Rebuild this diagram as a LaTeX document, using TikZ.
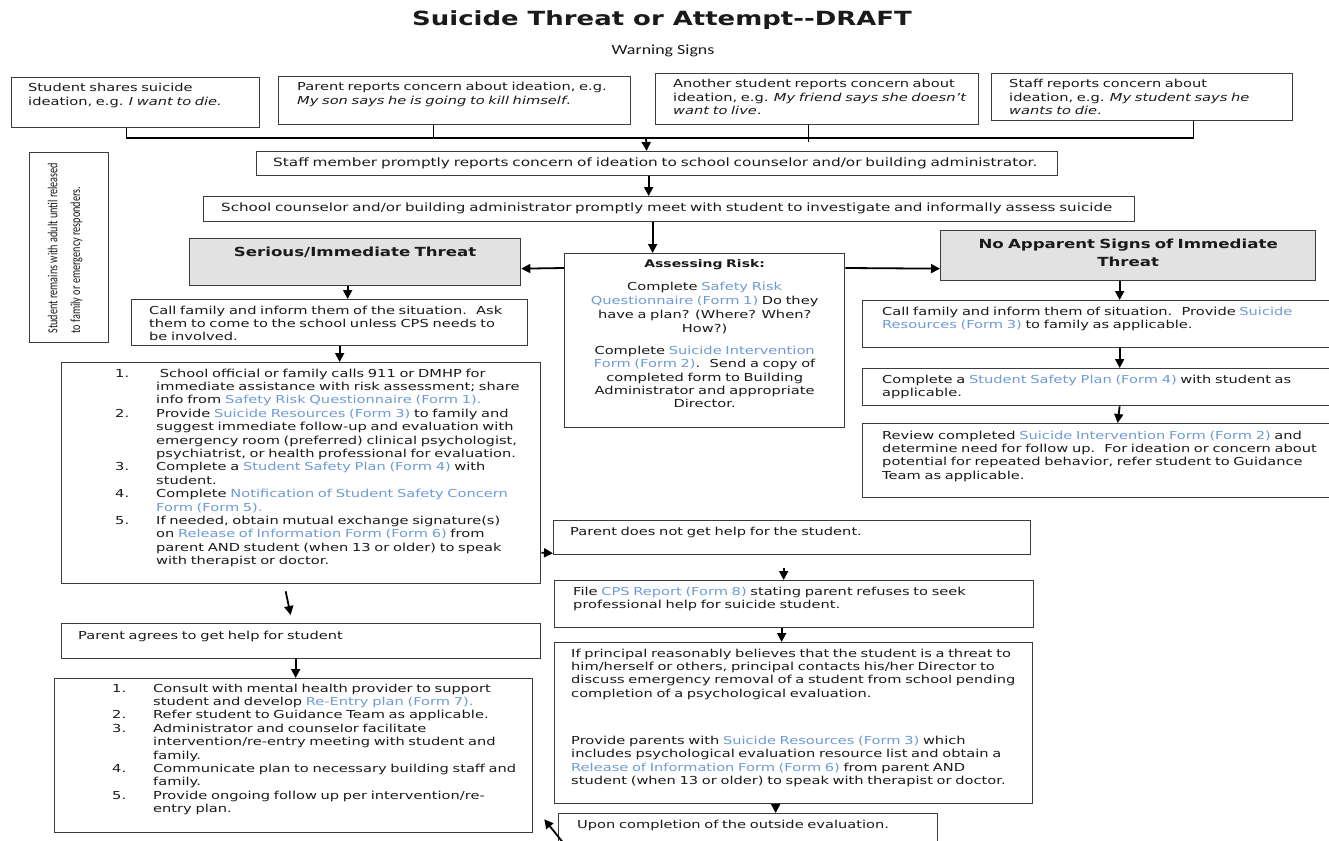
\documentclass[tikz,border=0pt]{standalone}
\usepackage{fontspec}
\usepackage{xcolor}
\usepackage{graphicx}
\usetikzlibrary{arrows.meta}
\setmainfont{DejaVu Sans}[FakeStretch=1.33]
\newfontfamily\calfont{Carlito}
\newfontfamily\calwide{Carlito}[FakeStretch=1.28]

\definecolor{encre}{HTML}{1A1A1A}
\definecolor{lien}{HTML}{6E9BD6}
\definecolor{bord}{HTML}{3C3C3C}
\definecolor{grisfond}{HTML}{E2E2E2}

\newcommand{\corps}{\fontsize{11}{13.4}\selectfont\normalbaselineskip=13.4pt}
\newcommand{\form}[1]{\textcolor{lien}{#1}}
\newcommand{\numero}[1]{\makebox[41pt][l]{#1}}
\newcommand{\retrait}{\hspace*{41pt}}

\begin{document}
\begin{tikzpicture}[x=1pt,y=-1pt,
  boite/.style={draw=bord, line width=1.3pt, anchor=north west, inner sep=0pt},
  grise/.style={boite, fill=grisfond},
  txt/.style={anchor=base west, inner sep=0pt, text width=1000pt, align=left, font=\corps, text=encre},
  txtc/.style={txt, anchor=base, align=center},
  fleche/.style={line width=1.8pt, -{Triangle[length=9pt,width=9pt]}},
  trait/.style={line width=1.4pt}]

\path[fill=white, use as bounding box] (0,0) rectangle (1329,840);

% Titre
\node[font=\bfseries\fontsize{19.5}{24}\selectfont, text=encre] (title) at (662,20) {Suicide Threat or Attempt-{}-DRAFT};
\node[font=\calwide\fontsize{14}{16}\selectfont, text=encre] (signs) at (663,51) {Warning Signs};

% Signes d'alerte
\node[boite, minimum width=248pt, minimum height=50pt] (student) at (11,77) {};
\node[txt] (student-t) at ([xshift=17pt,yshift=-15pt]student.north west) {Student shares suicide\\ideation, e.g. \textit{I want to die.}};
\node[boite, minimum width=352pt, minimum height=48pt] (parent) at (278,76) {};
\node[txt] (parent-t) at ([xshift=19pt,yshift=-15pt]parent.north west) {Parent reports concern about ideation, e.g.\\\textit{My son says he is going to kill himself}.};
\node[boite, minimum width=323pt, minimum height=51pt] (peer) at (655,73) {};
\node[txt] (peer-t) at ([xshift=18pt,yshift=-15pt]peer.north west) {Another student reports concern about\\ideation, e.g. \textit{My friend says she doesn't}\\\textit{want to live}.};
\node[boite, minimum width=301pt, minimum height=47pt] (staff) at (991,73) {};
\node[txt] (staff-t) at ([xshift=18pt,yshift=-15pt]staff.north west) {Staff reports concern about\\ideation, e.g. \textit{My student says he}\\\textit{wants to die}.};

% Signalement et rencontre
\node[boite, minimum width=801pt, minimum height=24pt] (report) at (256,151) {};
\node[txt, font=\fontsize{11.5}{13.4}\selectfont] (report-t) at ([xshift=17pt,yshift=-15pt]report.north west) {Staff member promptly reports concern of ideation to school counselor and/or building administrator.};
\node[boite, minimum width=931pt, minimum height=25pt] (meet) at (203,196) {};
\node[txt, font=\fontsize{11.35}{13.4}\selectfont] (meet-t) at ([xshift=18pt,yshift=-15pt]meet.north west) {School counselor and/or building administrator promptly meet with student to investigate and informally assess suicide};

% Encadre vertical
\node[boite, minimum width=79pt, minimum height=190pt] (side) at (29,152) {};
\node[rotate=90, inner sep=0pt, text=encre] (side-t) at ([xshift=-4pt]side.center) {\scalebox{1}[1.35]{\parbox{172pt}{\calfont\fontsize{10.2}{17}\selectfont Student remains with adult until released\\to family or emergency responders.}}};

% Evaluation du risque
\node[boite, minimum width=280pt, minimum height=174pt] (assess) at (564,253) {};
\node[txtc] (assess-t) at ([yshift=-14pt]assess.north) {{\bfseries\fontsize{10.5}{13.4}\selectfont Assessing Risk:}\\[9.6pt]Complete \form{Safety Risk}\\[0.7pt]\form{Questionnaire (Form 1)} Do they\\[0.7pt]have a plan? (Where? When?\\[0.7pt]How?)\\[8.6pt]Complete \form{Suicide Intervention}\\\form{Form (Form 2)}. \ Send a copy of\\completed form to Building\\Administrator and appropriate\\Director.};

% Menace serieuse
\node[grise, minimum width=331pt, minimum height=47pt] (serious) at (189,238) {};
\node[txtc, font=\bfseries\fontsize{12.5}{18}\selectfont] (serious-t) at ([yshift=-18pt]serious.north) {Serious/Immediate Threat};
\node[boite, minimum width=396pt, minimum height=46pt] (callfam) at (131,299) {};
\node[txt] (callfam-t) at ([xshift=18pt,yshift=-15pt]callfam.north west) {Call family and inform them of the situation. \ Ask\\them to come to the school unless CPS needs to\\be involved.};
\node[boite, minimum width=479pt, minimum height=221pt] (steps) at (61,362) {};
\node[txt] (steps-t) at ([xshift=54pt,yshift=-15pt]steps.north west) {%
\numero{1.}\ School official or family calls 911 or DMHP for\\
\retrait immediate assistance with risk assessment; share\\
\retrait info from \form{Safety Risk Questionnaire (Form 1).}\\
\numero{2.}Provide \form{Suicide Resources (Form 3)} to family and\\
\retrait suggest immediate follow-up and evaluation with\\
\retrait emergency room (preferred) clinical psychologist,\\
\retrait psychiatrist, or health professional for evaluation.\\
\numero{3.}Complete a \form{Student Safety Plan (Form 4)} with\\
\retrait student.\\
\numero{4.}Complete \form{Notification of Student Safety Concern}\\
\retrait\form{Form (Form 5).}\\
\numero{5.}If needed, obtain mutual exchange signature(s)\\
\retrait on \form{Release of Information Form (Form 6)} from\\
\retrait parent AND student (when 13 or older) to speak\\
\retrait with therapist or doctor.};
\node[boite, minimum width=479pt, minimum height=35pt] (agrees) at (61,623) {};
\node[txt] (agrees-t) at ([xshift=17pt,yshift=-16pt]agrees.north west) {Parent agrees to get help for student};
\node[boite, minimum width=478pt, minimum height=154pt] (reentry) at (54,678) {};
\node[txt] (reentry-t) at ([xshift=58pt,yshift=-14pt]reentry.north west) {%
\numero{1.}Consult with mental health provider to support\\
\retrait student and develop \form{Re-Entry plan (Form 7).}\\
\numero{2.}Refer student to Guidance Team as applicable.\\
\numero{3.}Administrator and counselor facilitate\\
\retrait intervention/re-entry meeting with student and\\
\retrait family.\\
\numero{4.}Communicate plan to necessary building staff and\\
\retrait family.\\
\numero{5.}Provide ongoing follow up per intervention/re-\\
\retrait entry plan.};

% Parent ne demande pas d'aide
\node[boite, minimum width=477pt, minimum height=34pt] (notget) at (553,520) {};
\node[txt] (notget-t) at ([xshift=17pt,yshift=-15pt]notget.north west) {Parent does not get help for the student.};
\node[boite, minimum width=479pt, minimum height=47pt] (cps) at (554,580) {};
\node[txt] (cps-t) at ([xshift=19pt,yshift=-15pt]cps.north west) {File \form{CPS Report (Form 8)} stating parent refuses to seek\\professional help for suicide student.};
\node[boite, minimum width=478pt, minimum height=161pt] (principal) at (554,642) {};
\node[txt] (principal-t) at ([xshift=17pt,yshift=-15pt]principal.north west) {If principal reasonably believes that the student is a threat to\\him/herself or others, principal contacts his/her Director to\\discuss emergency removal of a student from school pending\\completion of a psychological evaluation.\\[33.6pt]Provide parents with \form{Suicide Resources (Form 3)} which\\includes psychological evaluation resource list and obtain a\\\form{Release of Information Form (Form 6)} from parent AND\\student (when 13 or older) to speak with therapist or doctor.};
\node[boite, minimum width=379pt, minimum height=35pt] (upon) at (558,813) {};
\node[txt] (upon-t) at ([xshift=19pt,yshift=-15pt]upon.north west) {Upon completion of the outside evaluation.};

% Pas de menace immediate
\node[grise, minimum width=375pt, minimum height=50pt] (noapp) at (940,230) {};
\node[txtc, font=\bfseries\fontsize{12.5}{18}\selectfont] (noapp-t) at ([yshift=-18pt]noapp.north) {No Apparent Signs of Immediate\\Threat};
\node[boite, minimum width=478pt, minimum height=47pt] (callR) at (862,300) {};
\node[txt] (callR-t) at ([xshift=20pt,yshift=-15pt]callR.north west) {Call family and inform them of situation. \ Provide \form{Suicide}\\\form{Resources (Form 3)} to family as applicable.};
\node[boite, minimum width=478pt, minimum height=37pt] (planR) at (862,368) {};
\node[txt] (planR-t) at ([xshift=20pt,yshift=-15pt]planR.north west) {Complete a \form{Student Safety Plan (Form 4)} with student as\\applicable.};
\node[boite, minimum width=478pt, minimum height=74pt] (reviewR) at (862,423) {};
\node[txt] (reviewR-t) at ([xshift=20pt,yshift=-16pt]reviewR.north west) {Review completed \form{Suicide Intervention Form (Form 2)} and\\determine need for follow up. \ For ideation or concern about\\potential for repeated behavior, refer student to Guidance\\Team as applicable.};

% Lignes de jonction
\coordinate (jn) at (646,138);
\draw[trait] ([xshift=-9pt]student.south) |- (jn) -| ([xshift=51.5pt]staff.south);
\draw[trait] ([xshift=-21pt]parent.south) -- ++(0,14);
\draw[trait] ([xshift=-8.5pt]peer.south) -- ++(0,17);

% Fleches
\draw[fleche] (jn) -- ([xshift=-10.5pt]report.north);
\draw[fleche] ([xshift=-8.5pt]report.south) -- ([xshift=-20.5pt]meet.north);
\draw[fleche] ([xshift=-16.5pt]meet.south) -- ([xshift=-52pt]assess.north);
\draw[fleche] ([yshift=-15pt]assess.north west) -- ([yshift=-6.5pt]serious.east);
\draw[fleche] ([yshift=-15pt]assess.north east) -- ([yshift=-13pt]noapp.west);
\draw[fleche] ([xshift=-7.5pt]serious.south) -- ([xshift=18pt]callfam.north);
\draw[fleche] ([xshift=10pt]callfam.south) -- ([xshift=38.5pt]steps.north);
\draw[fleche] ([yshift=-79.5pt]steps.east) -- ([yshift=2pt]notget.south west);
\draw[fleche] ([xshift=-8.5pt,yshift=-13pt]notget.south) -- ([xshift=-10.5pt]cps.north);
\draw[fleche] ([xshift=-12.5pt]cps.south) -- ([xshift=-12pt]principal.north);
\draw[fleche] ([xshift=-18pt]principal.south) -- ([xshift=27.5pt]upon.north);
\draw[fleche] ([xshift=4pt,yshift=8pt]upon.south west) -- ([xshift=11pt,yshift=14pt]reentry.south east);
\draw[fleche] ([xshift=-15.5pt,yshift=-7pt]steps.south) -- ([xshift=-10.5pt,yshift=8pt]agrees.north);
\draw[fleche] ([xshift=-5.5pt]agrees.south) -- ([xshift=2pt]reentry.north);
\draw[fleche] ([xshift=-8.5pt]noapp.south) -- ([xshift=18pt]callR.north);
\draw[fleche] ([xshift=18pt]callR.south) -- ([xshift=18pt]planR.north);
\draw[fleche] ([xshift=18pt]planR.south) -- ([xshift=16pt]reviewR.north);

\end{tikzpicture}
\end{document}
